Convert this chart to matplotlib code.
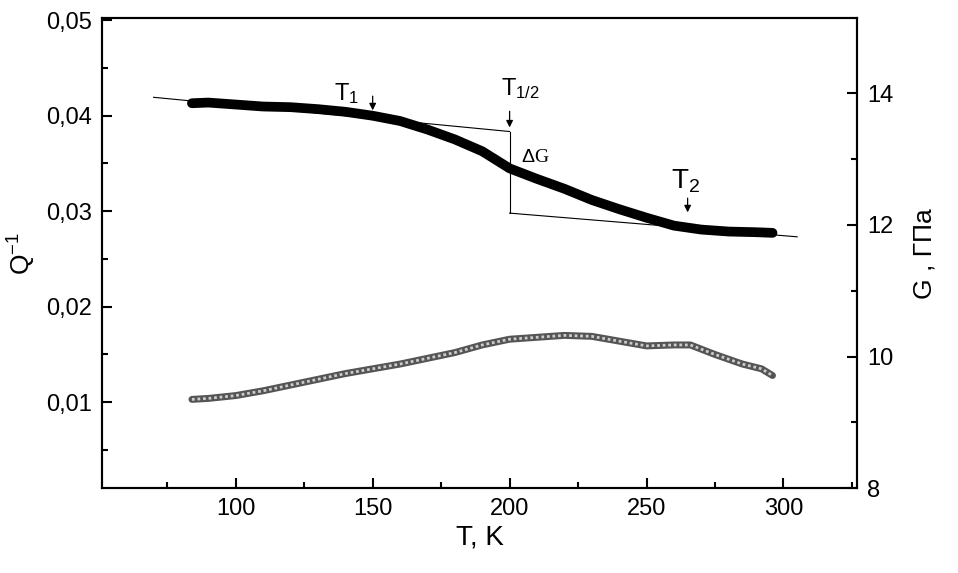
import matplotlib.pyplot as plt

plt.rcParams['font.family'] = ['Liberation Sans', 'DejaVu Sans']
plt.rcParams['mathtext.fontset'] = 'custom'
plt.rcParams['mathtext.rm'] = 'Liberation Sans'
plt.rcParams['mathtext.it'] = 'Liberation Sans'

# G (right axis), black curve
t_g = [84, 90, 100, 110, 120, 130, 140, 150, 160, 170, 180, 190, 200, 210, 220,
       230, 240, 250, 260, 270, 280, 290, 296]
g = [13.85, 13.86, 13.83, 13.80, 13.79, 13.76, 13.72, 13.66, 13.58, 13.45, 13.30, 13.12,
     12.86, 12.70, 12.55, 12.38, 12.24, 12.11, 11.99, 11.93, 11.90, 11.89, 11.88]

# Q^-1 (left axis), open circles
t_q = [84, 90, 100, 110, 120, 130, 140, 150, 160, 170, 180, 190, 200, 210, 220,
       230, 240, 250, 260, 266, 275, 285, 292, 296]
q = [0.0103, 0.0104, 0.0107, 0.0112, 0.0118, 0.0124, 0.0130, 0.0135, 0.0140, 0.0146,
     0.0152, 0.0160, 0.0166, 0.0168, 0.0170, 0.0169, 0.0164, 0.0159, 0.0160, 0.0160,
     0.0150, 0.0140, 0.0135, 0.0128]

# construction lines (G units)
upper_t = [70, 200]
upper_g = [13.94, 13.42]
lower_t = [200, 305]
lower_g = [12.18, 11.82]

fig, ax = plt.subplots(figsize=(9.58, 5.73), dpi=100)
fig.subplots_adjust(left=0.106, right=0.895, top=0.968, bottom=0.148)
ax2 = ax.twinx()

ax.plot(t_q, q, color='#555555', lw=5, solid_capstyle='round')
ax.plot(t_q, q, color='#cccccc', lw=2, ls=(0, (1, 1)))
ax.set_xlim(51, 327)
ax.set_ylim(0.001, 0.0502)
ax.set_xticks([100, 150, 200, 250, 300])
ax.set_xticks([75, 125, 175, 225, 275, 325], minor=True)
ax.set_yticks([0.01, 0.02, 0.03, 0.04, 0.05])
ax.set_yticks([0.005, 0.015, 0.025, 0.035, 0.045], minor=True)
ax.set_yticklabels(['0,01', '0,02', '0,03', '0,04', '0,05'])
ax.set_xlabel('T, K', fontsize=20, labelpad=3)
ax.set_ylabel('Q$^{-1}$', fontsize=19, labelpad=6)

ax2.plot(t_g, g, color='black', lw=7, solid_capstyle='round')
ax2.plot(upper_t, upper_g, color='black', lw=0.8)
ax2.plot(lower_t, lower_g, color='black', lw=0.8)
ax2.plot([200, 200], [upper_g[1], lower_g[0]], color='black', lw=0.8)
ax2.set_ylim(8, 15.14)
ax2.set_yticks([8, 10, 12, 14])
ax2.set_yticks([9, 11, 13], minor=True)
ax2.set_ylabel('G , ГПа', fontsize=19, labelpad=14)

arr = dict(arrowstyle='-|>', color='black', lw=0.9, mutation_scale=10)
ax2.annotate('', xy=(150, 13.70), xytext=(150, 14.0), arrowprops=arr)
ax2.annotate('', xy=(200, 13.44), xytext=(200, 13.77), arrowprops=arr)
ax2.annotate('', xy=(265, 12.15), xytext=(265, 12.45), arrowprops=arr)
ax2.text(136, 13.9, 'T$_1$', fontsize=17)
ax2.text(197, 13.98, 'T$_{1/2}$', fontsize=17)
ax2.text(204, 12.95, r'$\Delta$G', fontsize=14, family='Liberation Serif')
ax2.text(259, 12.55, 'T$_2$', fontsize=20)

for a in (ax, ax2):
    a.tick_params(which='both', direction='in', labelsize=17, width=1.5, pad=7)
    a.tick_params(which='major', length=7)
    a.tick_params(which='minor', length=4)
    for s in a.spines.values():
        s.set_linewidth(1.5)

fig.savefig('out.png')
